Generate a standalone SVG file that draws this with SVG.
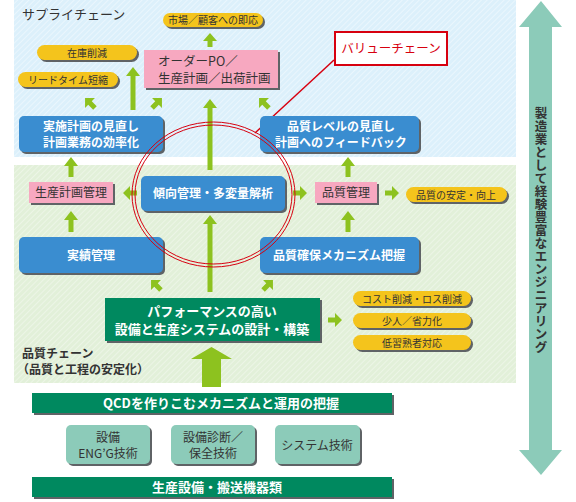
<svg xmlns="http://www.w3.org/2000/svg" width="576" height="502" viewBox="0 0 576 502">
<style>
text{font-family:"Noto Sans CJK JP","Noto Sans",sans-serif}
.w{fill:#fff;font-weight:bold;font-size:12px;text-anchor:middle}
.wl{fill:#fff;font-weight:bold;font-size:13px;text-anchor:middle}
.d{fill:#333;font-size:12px;text-anchor:middle}
.y{fill:#333;font-size:10px;text-anchor:middle}
.v{fill:#333;font-size:12.5px;font-weight:bold;text-anchor:middle}
.sh{fill:#5f6366}
.blue{fill:#3a8dd0}
.pink{fill:#f7a8c0}
.yel{fill:#f4c41c}
.dg{fill:#00895f}
.teal{fill:#8ccbb9}
.ar{fill:#8dc21f}
.red{fill:none;stroke:#d7000f}
</style>
<defs>
<pattern id="hb" width="4" height="4" patternUnits="userSpaceOnUse" patternTransform="rotate(45)">
<rect width="4" height="4" fill="#dcf0fb"/><rect width="1" height="4" fill="#eaf6fd"/>
</pattern>
<pattern id="hg" width="4" height="4" patternUnits="userSpaceOnUse" patternTransform="rotate(45)">
<rect width="4" height="4" fill="#e2f0d9"/><rect width="1" height="4" fill="#ecf5e6"/>
</pattern>
<path id="sa" d="M0,-7 L7,0 L2.5,0 L2.5,7 L-2.5,7 L-2.5,0 L-7,0 Z"/>
</defs>

<g id="panels">
<rect x="14" y="0" width="502" height="157" fill="url(#hb)"/>
<rect x="14" y="165" width="502" height="218" fill="url(#hg)"/>
<text x="22" y="19" style="font-size:13px;fill:#333">サプライチェーン</text>
<text x="22" y="358" style="font-size:12px;fill:#333;font-weight:bold">品質チェーン</text>
<text x="17" y="374" style="font-size:12px;fill:#333;font-weight:bold">（品質と工程の安定化）</text>
</g>

<g id="engineering">
<polygon points="541,1 562,27 552,27 552,450 562,450 541,475 519,450 529,450 529,27 519,27" fill="#8ccbb9"/>
<text class="v"><tspan x="541" y="118">製</tspan><tspan x="541" y="131">造</tspan><tspan x="541" y="144">業</tspan><tspan x="541" y="157">と</tspan><tspan x="541" y="170">し</tspan><tspan x="541" y="183">て</tspan><tspan x="541" y="196">経</tspan><tspan x="541" y="209">験</tspan><tspan x="541" y="222">豊</tspan><tspan x="541" y="235">富</tspan><tspan x="541" y="248">な</tspan><tspan x="541" y="261">エ</tspan><tspan x="541" y="274">ン</tspan><tspan x="541" y="287">ジ</tspan><tspan x="541" y="300">ニ</tspan><tspan x="541" y="313">ア</tspan><tspan x="541" y="326">リ</tspan><tspan x="541" y="339">ン</tspan><tspan x="541" y="352">グ</tspan></text>
</g>

<g id="connectors" class="ar">
<polygon points="210,33 217,41 212.5,41 212.5,47 207.5,47 207.5,41 203,41"/>
<polygon points="133,67 140,76 135.5,76 135.5,110 130.5,110 130.5,76 126,76"/>
<polygon points="210,99 217,108 212.5,108 212.5,170 207.5,170 207.5,108 203,108"/>
<polygon points="210,215 217,224 212.5,224 212.5,292 207.5,292 207.5,224 203,224"/>
<polygon points="71,157 78,166 73.5,166 73.5,177 68.5,177 68.5,166 64,166"/>
<polygon points="71,211 78,220 73.5,220 73.5,232 68.5,232 68.5,220 64,220"/>
<polygon points="348,157 355,166 350.5,166 350.5,177 345.5,177 345.5,166 341,166"/>
<polygon points="348,211 355,220 350.5,220 350.5,232 345.5,232 345.5,220 341,220"/>
<use href="#sa" transform="translate(90,103) rotate(-45)"/>
<use href="#sa" transform="translate(157,103) rotate(45)"/>
<use href="#sa" transform="translate(264,103) rotate(-45)"/>
<use href="#sa" transform="translate(156,285) rotate(-45)"/>
<use href="#sa" transform="translate(268,285) rotate(45)"/>
<use href="#sa" transform="translate(130,193) rotate(-90)"/>
<use href="#sa" transform="translate(300,193) rotate(90)"/>
<use href="#sa" transform="translate(392,193) rotate(90)"/>
<use href="#sa" transform="translate(335,320) rotate(90)"/>
<polygon points="211.5,347 232,359 221,359 221,387 202,387 202,359 191,359"/>
</g>

<g id="market">
<rect class="sh" x="165" y="15" width="100" height="14" rx="7"/>
<rect class="yel" x="163" y="13" width="100" height="14" rx="7"/>
<text class="y" x="213" y="24">市場／顧客への即応</text>
</g>
<g id="inventory">
<rect class="sh" x="39" y="47" width="100" height="15" rx="7.5"/>
<rect class="yel" x="37" y="45" width="100" height="15" rx="7.5"/>
<text class="y" x="87" y="56.5">在庫削減</text>
</g>
<g id="leadtime">
<rect class="sh" x="20" y="74" width="100" height="15" rx="7.5"/>
<rect class="yel" x="18" y="72" width="100" height="15" rx="7.5"/>
<text class="y" x="68" y="83.5">リードタイム短縮</text>
</g>
<g id="order">
<rect class="sh" x="146" y="52" width="134" height="38"/>
<rect class="pink" x="144" y="50" width="134" height="38"/>
<text x="158" y="65.5" style="font-size:12.5px;fill:#333">オーダーPO／</text>
<text x="158" y="83" style="font-size:12.5px;fill:#333">生産計画／出荷計画</text>
</g>
<g id="valuechain">
<rect x="335" y="32" width="112" height="33" fill="#fff" stroke="#d7000f" stroke-width="2"/>
<text x="391" y="53" style="font-size:12.5px;fill:#d7000f;text-anchor:middle">バリューチェーン</text>
<line class="red" x1="334" y1="60" x2="255" y2="133" stroke-width="1.5"/>
</g>
<g id="plan-review">
<rect class="sh" x="21" y="118" width="144" height="36" rx="5"/>
<rect class="blue" x="19" y="116" width="144" height="36" rx="5"/>
<text class="w" x="91" y="131">実施計画の見直し</text>
<text class="w" x="91" y="147">計画業務の効率化</text>
</g>
<g id="quality-review">
<rect class="sh" x="262" y="118" width="159" height="36" rx="5"/>
<rect class="blue" x="260" y="116" width="159" height="36" rx="5"/>
<text class="w" x="341" y="131">品質レベルの見直し</text>
<text class="w" x="341" y="147">計画へのフィードバック</text>
</g>
<g id="trend">
<rect class="sh" x="143" y="178" width="144" height="35" rx="5"/>
<rect class="blue" x="141" y="176" width="144" height="35" rx="5"/>
<text class="w" x="213" y="197.5">傾向管理・多変量解析</text>
</g>
<g id="prod-plan">
<rect class="sh" x="31" y="184" width="84" height="21"/>
<rect class="pink" x="29" y="182" width="84" height="21"/>
<text class="d" x="71" y="197">生産計画管理</text>
</g>
<g id="quality-mgmt">
<rect class="sh" x="317" y="184" width="62" height="21"/>
<rect class="pink" x="315" y="182" width="62" height="21"/>
<text class="d" x="346" y="197">品質管理</text>
</g>
<g id="quality-stable">
<rect class="sh" x="408" y="189" width="101" height="15" rx="7.5"/>
<rect class="yel" x="406" y="187" width="101" height="15" rx="7.5"/>
<text class="y" x="456" y="198.5">品質の安定・向上</text>
</g>
<g id="results">
<rect class="sh" x="21" y="239" width="144" height="36" rx="5"/>
<rect class="blue" x="19" y="237" width="144" height="36" rx="5"/>
<text class="w" x="91" y="259.5">実績管理</text>
</g>
<g id="quality-mech">
<rect class="sh" x="262" y="239" width="159" height="36" rx="5"/>
<rect class="blue" x="260" y="237" width="159" height="36" rx="5"/>
<text class="w" x="339" y="259.5">品質確保メカニズム把握</text>
</g>
<g id="design">
<rect class="sh" x="107" y="300" width="215" height="43"/>
<rect class="dg" x="105" y="298" width="215" height="43"/>
<text class="wl" x="212" y="316">パフォーマンスの高い</text>
<text class="wl" x="212" y="333.5">設備と生産システムの設計・構築</text>
</g>
<g id="cost">
<rect class="sh" x="355" y="293" width="118" height="15" rx="7.5"/>
<rect class="yel" x="353" y="291" width="118" height="15" rx="7.5"/>
<text class="y" x="412" y="302.5">コスト削減・ロス削減</text>
</g>
<g id="labor">
<rect class="sh" x="355" y="315" width="118" height="15" rx="7.5"/>
<rect class="yel" x="353" y="313" width="118" height="15" rx="7.5"/>
<text class="y" x="412" y="324.5">少人／省力化</text>
</g>
<g id="lowskill">
<rect class="sh" x="355" y="337" width="118" height="15" rx="7.5"/>
<rect class="yel" x="353" y="335" width="118" height="15" rx="7.5"/>
<text class="y" x="412" y="346.5">低習熟者対応</text>
</g>
<g id="qcd">
<rect class="sh" x="34" y="395" width="360" height="20"/>
<rect class="dg" x="32" y="393" width="360" height="20"/>
<text class="wl" x="221" y="408">QCDを作りこむメカニズムと運用の把握</text>
</g>
<g id="eng">
<rect class="sh" x="68" y="427" width="84" height="39" rx="5"/>
<rect class="teal" x="66" y="425" width="84" height="39" rx="5"/>
<text class="d" x="108" y="442">設備</text>
<text class="d" x="108" y="458">ENG’G技術</text>
</g>
<g id="diag">
<rect class="sh" x="173" y="427" width="84" height="39" rx="5"/>
<rect class="teal" x="171" y="425" width="84" height="39" rx="5"/>
<text class="d" x="213" y="442">設備診断／</text>
<text class="d" x="213" y="458">保全技術</text>
</g>
<g id="system">
<rect class="sh" x="277" y="427" width="85" height="39" rx="5"/>
<rect class="teal" x="275" y="425" width="85" height="39" rx="5"/>
<text class="d" x="317" y="450">システム技術</text>
</g>
<g id="equipment">
<rect class="sh" x="34" y="479" width="360" height="20"/>
<rect class="dg" x="32" y="477" width="360" height="20"/>
<text class="wl" x="217" y="492">生産設備・搬送機器類</text>
</g>
<g id="circle">
<ellipse class="red" cx="213.5" cy="194.5" rx="81.5" ry="72.5" stroke-width="1"/>
<ellipse class="red" cx="213.5" cy="194.5" rx="78.5" ry="69.5" stroke-width="1"/>
</g>
</svg>
